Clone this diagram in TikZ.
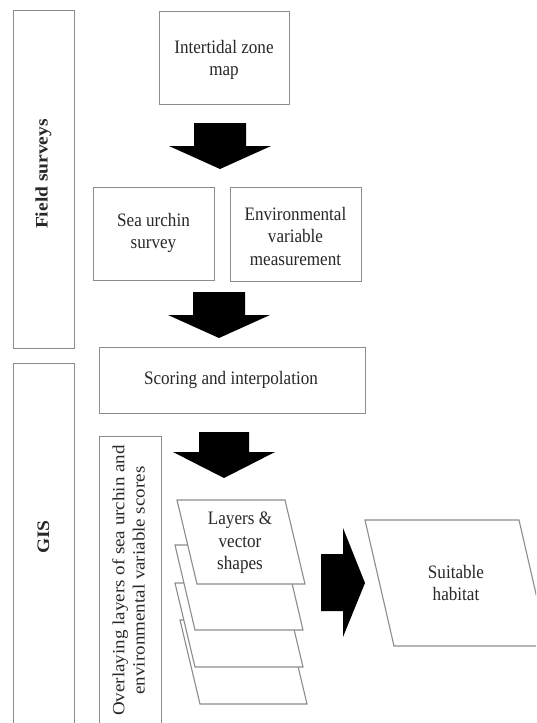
\documentclass[tikz,border=0pt]{standalone}
\usepackage{fontspec}
\setmainfont{Liberation Serif}[FakeStretch=0.9]
\newfontfamily\rotfont{Liberation Serif}
\usepackage{graphicx}
\definecolor{linegray}{RGB}{140,140,140}
\definecolor{textc}{RGB}{40,40,40}
\begin{document}
\begin{tikzpicture}[x=1pt,y=-1pt,
  box/.style={draw=linegray, line width=1.1pt, fill=white},
  rbox/.style={box, anchor=north west, inner sep=0pt},
  lbl/.style={font=\fontsize{19}{22.5}\selectfont, align=center, text=textc, inner sep=0pt},
  blk/.style={fill=black, draw=none}]
\useasboundingbox (0,0) rectangle (536,723);
\begin{scope}
\clip (0,0) rectangle (536,723);
% side label boxes
\node[rbox, minimum width=61pt, minimum height=338pt] (field) at (13,10) {};
\node[lbl, rotate=90] (fieldlbl) at (43.5,174) {\scalebox{1}[0.9]{\rotfont\bfseries\fontsize{19.5}{22.5}\selectfont Field surveys}};
\node[rbox, minimum width=61pt, minimum height=380pt] (gis) at (13,363) {};
\node[lbl, rotate=90] (gislbl) at (43.5,537) {\scalebox{1}[0.9]{\rotfont\bfseries\fontsize{19.5}{22.5}\selectfont GIS}};
% main boxes
\node[rbox, minimum width=130pt, minimum height=93pt] (map) at (159,11) {};
\node[lbl] (maplbl) at (224,60) {Intertidal zone\\map};
\node[rbox, minimum width=121pt, minimum height=93pt] (sea) at (93,187) {};
\node[lbl] (sealbl) at (153.5,233) {Sea urchin\\survey};
\node[rbox, minimum width=131pt, minimum height=94pt] (env) at (230,187) {};
\node[lbl] (envlbl) at (295.5,236) {Environmental\\variable\\measurement};
\node[rbox, minimum width=266pt, minimum height=66pt] (score) at (99,347) {};
\node[lbl] (scorelbl) at (231,380) {Scoring and interpolation};
\node[rbox, minimum width=62pt, minimum height=310pt] (overlay) at (99,436) {};
\node[lbl, rotate=90] (overlaylbl) at (130.5,580.5) {\scalebox{1}[0.9]{\rotfont\fontsize{19}{22.5}\selectfont\begin{tabular}{@{}c@{}}Overlaying layers of sea urchin and\\ environmental variable scores\end{tabular}}};
% down arrows
\fill[blk] (194,123) -- (246,123) -- (246,146) -- (271,146) -- (220,169) -- (169,146) -- (194,146) -- cycle;
\fill[blk] (193,292) -- (245,292) -- (245,315) -- (270,315) -- (219,338) -- (168,315) -- (193,315) -- cycle;
\fill[blk] (199,432) -- (249,432) -- (249,452) -- (275,452) -- (224,478) -- (173,452) -- (199,452) -- cycle;
% layers stack
\draw[box] (180,620) -- ++(107,0) -- ++(20,84) -- ++(-107,0) -- cycle;
\draw[box] (175,583) -- ++(108,0) -- ++(20,84) -- ++(-108,0) -- cycle;
\draw[box] (175,545) -- ++(108,0) -- ++(20,85) -- ++(-108,0) -- cycle;
\draw[box] (177,500) -- ++(108,0) -- ++(20,84) -- ++(-108,0) -- cycle;
\node[lbl] (layerslbl) at (240,543) {Layers \&\\vector\\shapes};
% right arrow
\fill[blk] (321,554) -- (343,554) -- (343,528) -- (365,583) -- (343,637) -- (343,611) -- (321,611) -- cycle;
% suitable habitat
\draw[box] (365,520) -- (519,520) -- (548,646) -- (394,646) -- cycle;
\node[lbl] (habitat) at (456,583) {Suitable\\habitat};
\end{scope}
\end{tikzpicture}
\end{document}
